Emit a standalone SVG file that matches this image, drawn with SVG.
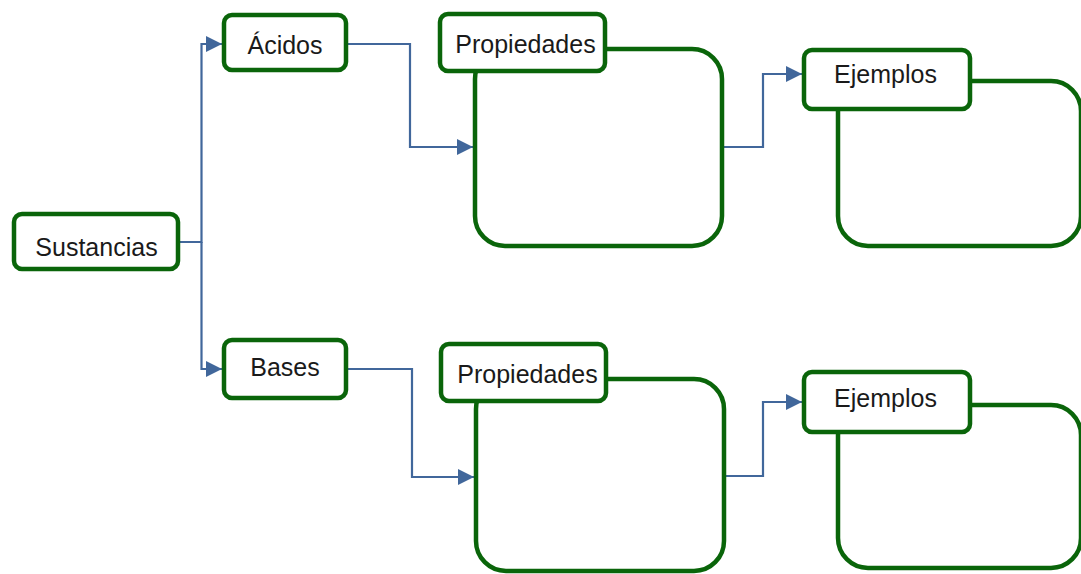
<svg xmlns="http://www.w3.org/2000/svg" width="1081" height="574" viewBox="0 0 1081 574">
<style>
.box{fill:#ffffff;stroke:#0a650a;stroke-width:4.5}
.lbl{font-family:"Liberation Sans",Arial,sans-serif;font-size:25px;fill:#1a1a1a;text-anchor:middle}
.con{fill:none;stroke:#41679b;stroke-width:2.2}
</style>
<defs>
<marker id="arr" markerUnits="userSpaceOnUse" viewBox="0 0 16 16" refX="16" refY="8" markerWidth="16" markerHeight="16" orient="auto">
<path d="M0,0 L16,8 L0,16 z" fill="#41679b"/>
</marker>
</defs>
<rect width="1081" height="574" fill="#ffffff"/>
<g id="connectors">
<path class="con" d="M180,242 H201.5 V44 H222" marker-end="url(#arr)"/>
<path class="con" d="M201.5,242 V369 H222" marker-end="url(#arr)"/>
<path class="con" d="M348,44 H410 V147 H473" marker-end="url(#arr)"/>
<path class="con" d="M348,369 H412 V477 H474" marker-end="url(#arr)"/>
<path class="con" d="M724,147 H763 V74 H802" marker-end="url(#arr)"/>
<path class="con" d="M726,476 H763 V402 H802" marker-end="url(#arr)"/>
</g>
<g id="sustancias">
<rect class="box" x="14" y="214" width="164" height="55" rx="8"/>
<text class="lbl" x="96.5" y="256">Sustancias</text>
</g>
<g id="acidos">
<rect class="box" x="224" y="15" width="122" height="55" rx="8"/>
<text class="lbl" x="285" y="54">Ácidos</text>
</g>
<g id="bases">
<rect class="box" x="224" y="340" width="122" height="58" rx="8"/>
<text class="lbl" x="285" y="376">Bases</text>
</g>
<g id="propiedades-acidos">
<rect class="box" x="475" y="49" width="247" height="197" rx="30"/>
<rect class="box" x="440" y="14" width="165" height="57" rx="8"/>
<text class="lbl" x="525.5" y="53">Propiedades</text>
</g>
<g id="ejemplos-acidos">
<rect class="box" x="838" y="81" width="243" height="165" rx="30"/>
<rect class="box" x="804" y="50" width="166" height="59" rx="8"/>
<text class="lbl" x="885.5" y="83">Ejemplos</text>
</g>
<g id="propiedades-bases">
<rect class="box" x="476" y="379" width="248" height="192" rx="30"/>
<rect class="box" x="441" y="344" width="165" height="57" rx="8"/>
<text class="lbl" x="527.5" y="383">Propiedades</text>
</g>
<g id="ejemplos-bases">
<rect class="box" x="838" y="405" width="243" height="163" rx="30"/>
<rect class="box" x="804" y="372" width="166" height="60" rx="8"/>
<text class="lbl" x="885.5" y="407">Ejemplos</text>
</g>
</svg>
